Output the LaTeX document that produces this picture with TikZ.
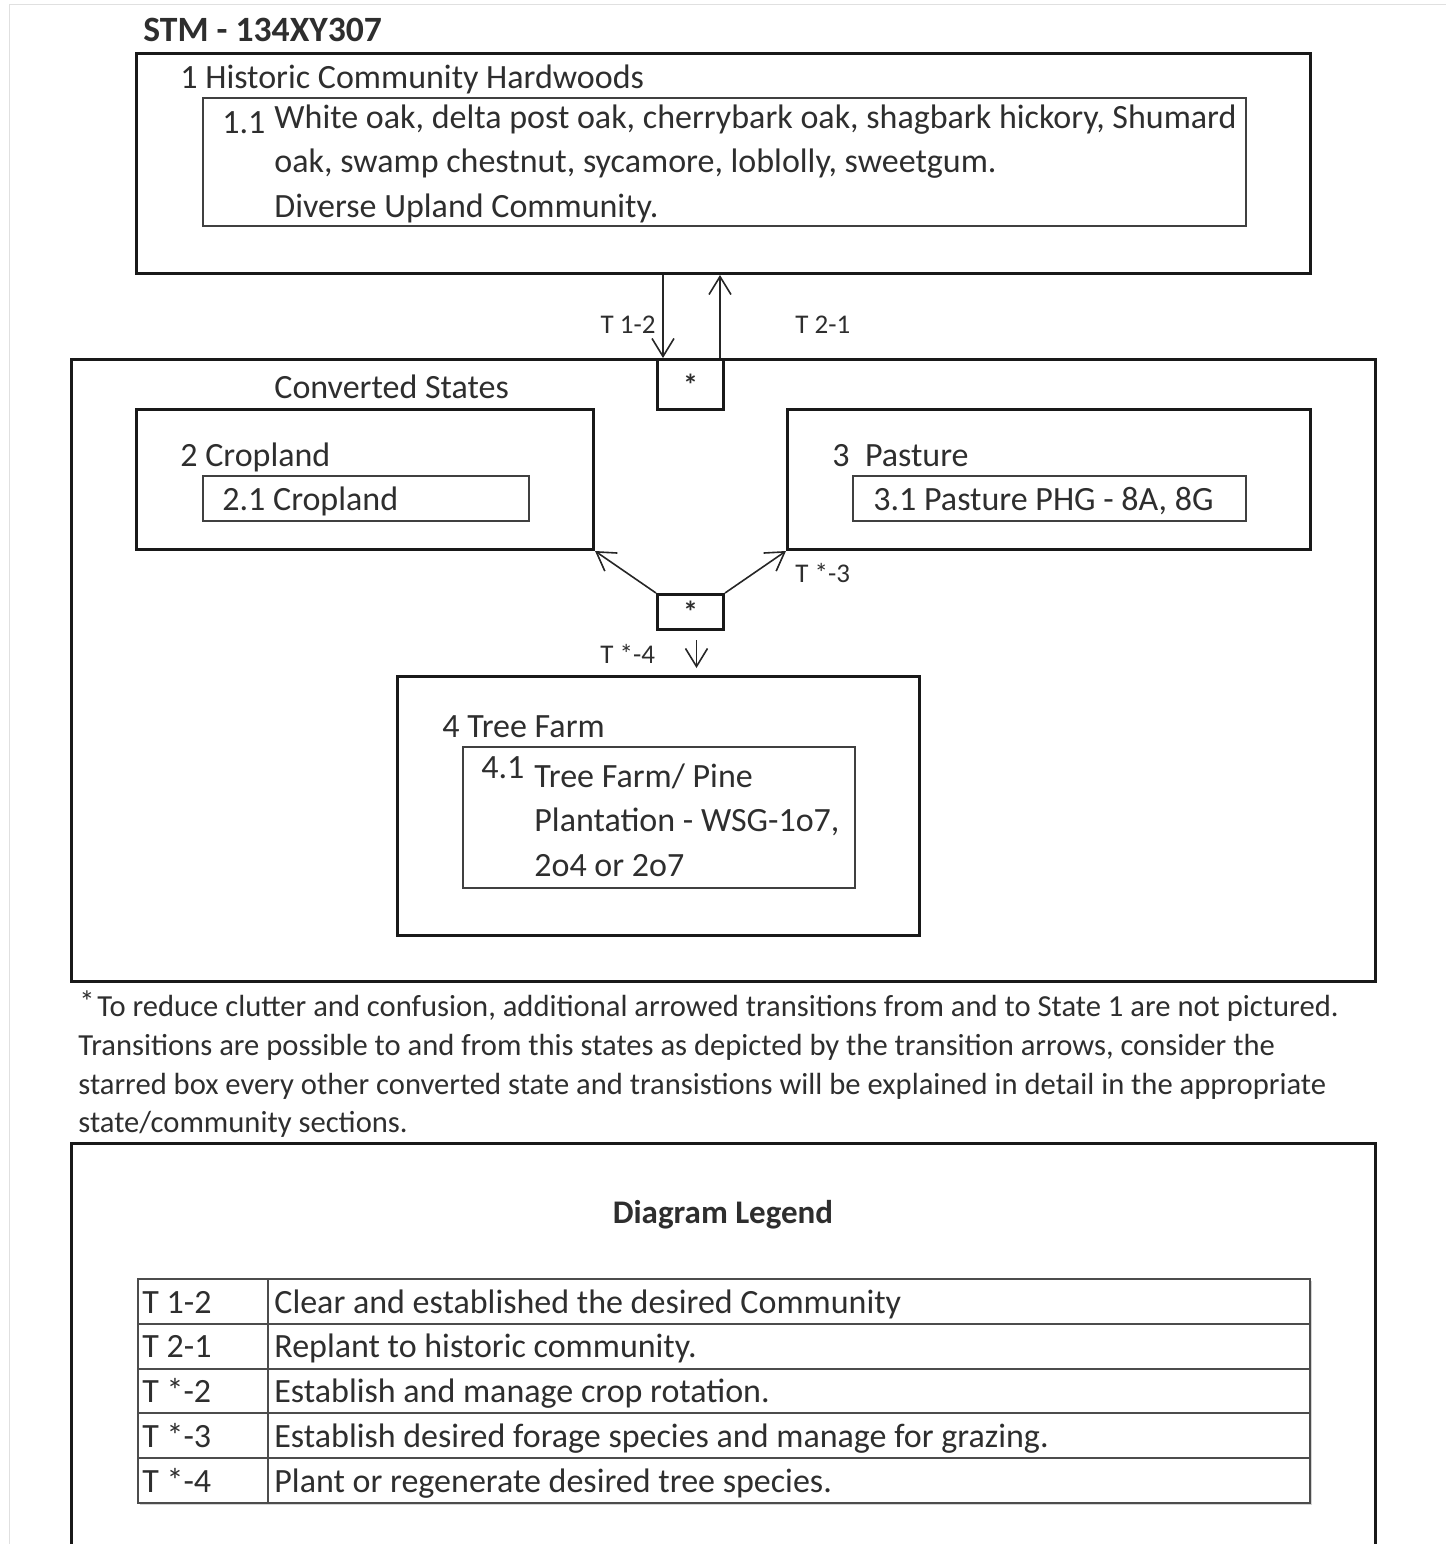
\documentclass[tikz,border=0pt]{standalone}
\usepackage{fontspec}
\setmainfont{Carlito}
\usetikzlibrary{positioning, arrows.meta, shadows, calc}

\colorlet{drawColor}{black!90}
\colorlet{textColor}{black!82}
\tikzstyle{stateBox}=[rectangle, anchor=north west, inner sep=0pt, line width=1.5pt, draw=drawColor]
\tikzstyle{phaseBox}=[rectangle, anchor=north west, inner sep=0pt, line width=1pt, draw=black!75]
\tikzstyle{starBox}=[rectangle, anchor=north west, inner sep=0pt, line width=1.5pt, draw=drawColor,
font=\fontsize{15}{15}\selectfont\bfseries, text=textColor]
\tikzstyle{txt}=[anchor=base west, inner sep=0pt, text=textColor]
\tikzstyle{tLabel}=[txt, font=\fontsize{13.5}{16}\selectfont]
\tikzstyle{note}=[txt, font=\fontsize{15.3}{18}\selectfont]
\tikzstyle{arrow}=[-{Straight Barb[length=9pt, width=11pt]}, line width=0.8pt, draw=black!85]
\tikzstyle{tRow}=[rectangle, anchor=north west, inner sep=0pt, line width=1pt, draw=black!70,
minimum width=586pt, minimum height=22.4pt]

\begin{document}
\begin{tikzpicture}[x=0.5pt, y=-0.5pt, font=\fontsize{17}{20}\selectfont]
  \useasboundingbox (0,0) rectangle (1446,1544);
  \draw [black!12, line width=0.5pt] (9,1544) -- (9,4) -- (1446,4);

  \node(title) [txt, font=\fontsize{17.8}{20}\selectfont\bfseries] at (143,41) {STM - 134XY307};

  % state 1
  \node(hist) [stateBox, minimum width=587pt, minimum height=110pt] at (135,52) {};
  \node(histLbl) [txt] at (180,88) {1 Historic Community Hardwoods};
  \node(hist11) [phaseBox, minimum width=521.5pt, minimum height=64pt] at (202,97) {};
  \node(hist11Num) [txt] at (222,133) {1.1};
  \foreach \line [count=\i] in {{White oak, delta post oak, cherrybark oak, shagbark hickory, Shumard},
    {oak, swamp chestnut, sycamore, loblolly, sweetgum.}, {Diverse Upland Community.}}
    \node(hist11Txt\i) [txt] at (274,{128+44.5*(\i-1)}) {\line};

  % converted states
  \node(conv) [stateBox, minimum width=652pt, minimum height=311pt] at (70,358) {};
  \node(convLbl) [txt] at (274,398) {Converted States};
  \node(starTop) [starBox, minimum width=33pt, minimum height=25pt] at (656,358) {*};

  \node(crop) [stateBox, minimum width=228.5pt, minimum height=70pt] at (135,408) {};
  \node(cropLbl) [txt] at (180,466) {2 Cropland};
  \node(crop21) [phaseBox, minimum width=163pt, minimum height=22.5pt] at (202,475) {};
  \node(crop21Lbl) [txt] at (222,510) {2.1 Cropland};

  \node(past) [stateBox, minimum width=261.5pt, minimum height=70pt] at (786,408) {};
  \node(pastLbl) [txt] at (832,466) {3\ \ Pasture};
  \node(past31) [phaseBox, minimum width=196.5pt, minimum height=22.5pt] at (852,475) {};
  \node(past31Lbl) [txt] at (873,510) {3.1 Pasture PHG - 8A, 8G};

  \node(starMid) [starBox, minimum width=33pt, minimum height=17.5pt] at (656,593) {*};

  \node(tree) [stateBox, minimum width=261pt, minimum height=129.5pt] at (396,675) {};
  \node(treeLbl) [txt] at (442,737) {4 Tree Farm};
  \node(tree41) [phaseBox, minimum width=196pt, minimum height=70.5pt] at (462,746) {};
  \node(tree41Num) [txt] at (481,778) {4.1};
  \foreach \line [count=\i] in {{Tree Farm/ Pine}, {Plantation - WSG-1o7,}, {2o4 or 2o7}}
    \node(tree41Txt\i) [txt] at (534,{787+44.5*(\i-1)}) {\line};

  % transitions
  \coordinate (t12) at ($(starTop.north west)+(7,0)$);
  \coordinate (t21) at ($(starTop.north east)+(-5,0)$);
  \draw [arrow] (t12 |- hist.south) -- (t12);
  \draw [arrow] (t21) -- (t21 |- hist.south);
  \node(t12Lbl) [tLabel, anchor=base east] at (656,333) {T 1-2};
  \node(t21Lbl) [tLabel] at (795,333) {T 2-1};

  \draw [arrow] (starMid.north west) -- (crop.south east);
  \draw [arrow] (starMid.north east) -- (past.south west);
  \node(t3Lbl) [tLabel] at (795,582) {T *-3};
  \coordinate (t4) at ($(starMid.south)+(6,9)$);
  \draw [arrow, shorten >=3.5pt] (t4) -- (t4 |- tree.north);
  \node(t4Lbl) [tLabel] at (600,663) {T *-4};

  % footnote
  \node(noteStar) [note] at (79,1012) {*};
  \node(note1) [note] at (97,1016) {To reduce clutter and confusion, additional arrowed transitions from and to State 1 are not pictured.};
  \node(note2) [note] at (78,1055) {Transitions are possible to and from this states as depicted by the transition arrows, consider the};
  \node(note3) [note] at (78,1094) {starred box every other converted state and transistions will be explained in detail in the appropriate};
  \node(note4) [note] at (78,1132) {state/community sections.};

  % legend
  \node(legend) [stateBox, minimum width=652pt, minimum height=215pt] at (70,1142) {};
  \node(legendTitle) [txt, anchor=base, font=\fontsize{16.5}{20}\selectfont\bfseries] at (723,1223) {Diagram Legend};
  \node(table) [tRow, minimum height=112pt, fill=white,
    drop shadow={shadow xshift=1pt, shadow yshift=-1.2pt, opacity=0.35}] at (137,1278) {};
  \foreach \code/\desc [count=\i] in {T 1-2/Clear and established the desired Community,
    T 2-1/Replant to historic community., T *-2/Establish and manage crop rotation.,
    T *-3/Establish desired forage species and manage for grazing.,
    T *-4/Plant or regenerate desired tree species.}
  {
    \node(row\i) [tRow] at (137,{1278+44.8*(\i-1)}) {};
    \node(code\i) [txt] at (142,{1313+44.8*(\i-1)}) {\code};
    \node(desc\i) [txt] at (274,{1313+44.8*(\i-1)}) {\desc};
  }
  \draw [line width=1pt, draw=black!70] ($(row1.north west)+(131,0)$) -- ($(row5.south west)+(131,0)$);
\end{tikzpicture}
\end{document}
